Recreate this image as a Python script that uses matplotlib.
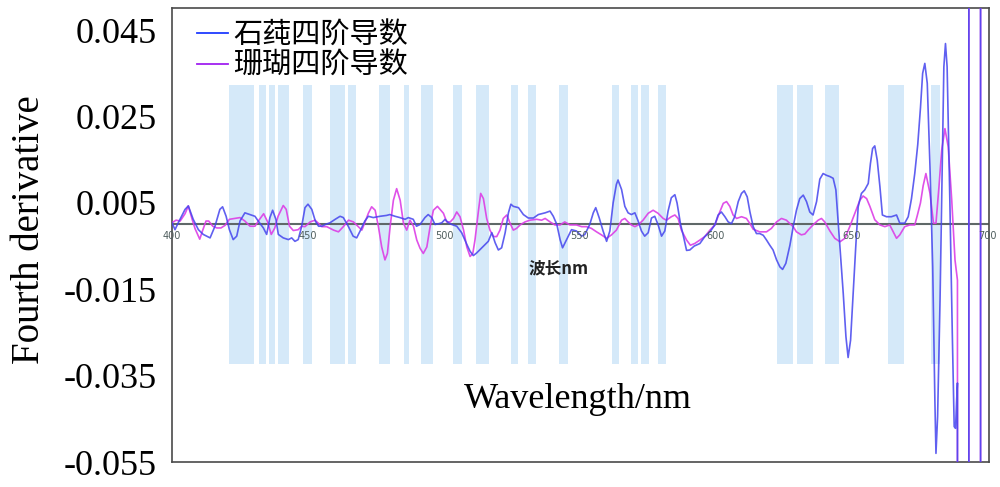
import numpy as np
import matplotlib
matplotlib.use('Agg')
import matplotlib.pyplot as plt
from matplotlib.lines import Line2D

plt.rcParams['axes.unicode_minus'] = False

# fourth derivative curves, values in units of 1e-3
# +-3000 are the off-scale jumps at the red edge
ulva_wl = [400.0, 401.1, 402.3, 404.8, 406.0, 407.8, 409.7, 411.5, 414.0, 415.8, 417.6, 418.6, 419.9,
           421.1, 422.5, 423.8, 425.0, 426.8, 428.7, 430.5, 431.7, 433.6, 434.8, 436.0, 437.0, 438.2,
           439.1, 440.9, 442.8, 444.0, 445.2, 446.4, 447.7, 448.9, 450.0, 451.4, 452.7, 453.9, 455.1,
           456.4, 458.1, 460.0, 461.8, 463.0, 464.8, 466.6, 467.9, 469.1, 470.9, 472.2, 474.0, 476.5,
           478.9, 480.1, 482.0, 483.8, 485.7, 486.9, 488.7, 489.9, 491.2, 493.0, 494.2, 495.5, 496.7,
           498.2, 499.2, 500.4, 501.6, 502.9, 504.7, 506.5, 508.4, 509.6, 510.8, 512.0, 513.9, 516.3,
           517.6, 518.8, 520.0, 521.2, 522.5, 523.7, 524.6, 525.5, 527.4, 529.2, 531.0, 532.9, 534.7,
           537.2, 539.0, 540.2, 541.5, 542.7, 543.6, 545.1, 546.9, 548.7, 550.6, 551.8, 553.6, 554.9,
           555.8, 557.1, 558.5, 559.8, 561.0, 562.2, 563.4, 564.0, 565.3, 566.5, 567.7, 568.9, 570.2,
           571.4, 572.6, 573.8, 575.1, 576.3, 577.5, 578.7, 580.0, 581.2, 582.4, 583.6, 584.9, 585.7,
           587.0, 587.9, 589.2, 590.4, 592.0, 594.1, 595.9, 597.8, 599.6, 600.8, 602.0, 603.3, 604.5,
           605.7, 606.9, 608.2, 609.4, 610.4, 611.5, 612.5, 613.7, 614.9, 616.1, 617.4, 618.6, 619.8,
           621.0, 622.3, 623.5, 624.5, 625.7, 627.2, 628.4, 629.6, 630.8, 632.1, 633.3, 634.5, 635.7,
           637.0, 638.2, 639.4, 640.6, 641.9, 643.1, 644.1, 644.9, 645.8, 646.8, 647.8, 648.6, 649.5,
           650.4, 651.4, 652.3, 653.5, 654.7, 656.0, 656.8, 657.6, 658.4, 659.3, 660.3, 661.2, 662.7,
           664.5, 666.4, 667.6, 669.4, 670.7, 671.9, 673.1, 674.2, 675.2, 676.0, 676.8, 677.7, 678.7,
           679.7, 680.5, 680.9, 681.5, 682.4, 683.2, 683.8, 684.4, 685.0, 686.0, 686.9, 687.6, 688.1,
           688.5, 688.8, 689.0, 692.9, 693.1, 697.2, 697.4, 700.4]
ulva_d4 = [0.4, -1.2, 0.4, 3.5, 4.3, 1.2, -1.2, -2.3, -3.1, -0.4, 3.5, 4.1, 1.9,
           -1.2, -3.5, -2.7, 0.8, 2.7, 2.3, 1.9, 0.8, -0.8, -2.3, 1.6, 3.3, 1.2,
           -2.3, -3.1, -3.5, -3.1, -3.9, -3.5, -0.4, 3.9, 4.7, 3.5, 0.8, -0.4, -0.4,
           0.0, 0.4, 1.2, 1.9, 1.6, -0.4, -2.7, -3.1, -1.6, 0.8, 1.9, 1.6, 1.9,
           2.1, 2.3, 1.9, 1.6, 1.2, 1.6, 1.2, -0.4, 0.0, 1.6, 2.3, 1.6, 0.0,
           0.2, 0.4, 1.2, 0.4, 0.0, -0.4, -1.9, -4.6, -6.2, -7.2, -6.6, -5.4, -3.9,
           -1.9, -4.2, -5.9, -5.4, -1.9, 2.7, 4.7, 4.2, 3.9, 2.3, 1.5, 1.5, 2.3,
           2.7, 3.1, 1.9, 0.0, -3.5, -5.4, -3.5, -1.2, -1.5, -2.7, -2.3, 0.0, 2.7,
           3.9, 1.5, -1.5, -3.9, -1.5, 5.0, 9.3, 10.3, 8.1, 4.2, 2.7, 2.3, 2.7,
           0.8, -1.5, -2.7, -1.9, 1.5, 1.9, 0.0, -2.7, -1.5, 3.1, 6.2, 6.9, 5.0,
           0.0, -2.3, -6.0, -5.9, -5.0, -4.4, -2.8, -1.7, -0.1, 2.2, 2.9, 1.8, 0.6,
           0.2, 1.8, 5.3, 7.2, 7.8, 6.4, 2.9, -0.5, -2.1, -2.1, -2.5, -3.6, -4.8,
           -5.9, -8.2, -9.8, -10.4, -9.0, -4.8, -0.5, 3.3, 6.0, 6.8, 5.3, 2.9, 2.2,
           5.3, 10.5, 11.8, 11.4, 11.1, 10.7, 8.0, 1.0, -6.7, -15.9, -26.0, -30.8, -26.8,
           -16.7, -5.2, 4.1, 7.2, 8.0, 9.5, 14.1, 17.6, 18.2, 14.9, 8.7, 2.2, 1.8,
           1.8, 2.2, 0.3, 0.3, 1.8, 6.0, 11.8, 18.5, 27.0, 35.0, 37.3, 32.7, 13.4,
           -9.8, -40.7, -53.0, -44.5, -17.5, 13.4, 36.5, 41.9, 36.5, 5.6, -25.1, -46.8, -47.2,
           -40.7, -36.7, -3000, -3000, 3000, 3000, -3000, -3000]

coral_wl = [400.0, 401.5, 403.0, 404.8, 406.0, 407.5, 408.5, 410.2, 411.2, 412.5, 413.5, 415.0, 416.5,
            418.0, 419.5, 421.1, 423.0, 425.0, 426.8, 428.7, 430.5, 432.2, 433.7, 435.0, 436.5, 437.8,
            439.0, 440.9, 442.0, 443.2, 444.6, 446.4, 447.7, 448.9, 450.8, 452.6, 453.8, 455.1, 456.9,
            459.4, 461.2, 463.0, 464.9, 466.7, 468.5, 469.8, 471.0, 472.2, 473.4, 474.7, 475.9, 477.1,
            478.3, 479.2, 480.2, 481.4, 482.6, 483.9, 485.1, 486.3, 487.5, 488.8, 490.0, 491.2, 492.4,
            493.7, 494.9, 496.1, 497.6, 499.8, 501.0, 502.3, 503.5, 504.7, 505.9, 507.2, 508.4, 509.6,
            510.6, 511.4, 512.7, 513.5, 514.5, 515.7, 516.9, 518.2, 519.4, 520.6, 521.8, 523.1, 524.3,
            525.5, 526.7, 528.0, 529.8, 531.6, 534.1, 535.9, 537.2, 539.0, 540.8, 542.7, 544.4, 546.3,
            548.7, 550.6, 552.4, 554.2, 556.1, 557.9, 559.8, 561.6, 563.4, 565.3, 566.5, 567.7, 568.9,
            570.2, 571.4, 573.2, 575.1, 576.9, 578.7, 580.6, 581.8, 583.6, 584.9, 586.1, 587.3, 589.2,
            590.6, 592.2, 594.1, 595.9, 597.8, 599.6, 601.4, 602.7, 603.9, 605.1, 606.3, 607.6, 609.4,
            611.2, 612.5, 613.7, 616.1, 618.6, 620.4, 622.3, 624.1, 625.9, 627.2, 628.4, 629.6, 631.4,
            632.7, 633.9, 635.7, 637.6, 638.8, 640.0, 641.9, 643.7, 645.6, 647.4, 649.2, 651.1, 652.9,
            654.1, 655.4, 656.6, 658.4, 660.3, 662.1, 663.9, 665.2, 666.4, 667.6, 669.4, 671.3, 673.1,
            674.0, 675.2, 676.2, 677.2, 678.7, 680.0, 680.9, 682.0, 683.0, 684.2, 685.4, 686.7, 687.9,
            688.8, 689.0, 692.9, 693.1, 697.2, 697.4, 700.4]
coral_d4 = [0.4, 1.0, 0.8, 2.5, 4.3, 1.0, -1.0, -3.4, -1.5, 0.8, 0.8, -0.4, -0.8,
            -0.8, -0.2, 1.2, 1.4, 1.6, 0.8, -0.4, -0.4, 1.2, 2.5, 0.8, -2.3, -0.8,
            1.9, 4.4, 3.5, -0.4, -1.4, -1.2, -0.4, -0.5, 0.6, 1.0, 0.3, -0.5, -0.5,
            -1.3, -1.7, -0.5, 1.0, 0.6, -0.5, -1.3, 0.6, 2.6, 4.1, 3.3, -0.5, -5.2,
            -8.2, -6.7, -0.5, 5.6, 8.3, 5.6, 0.3, -1.3, 1.0, -0.4, -3.6, -5.5, -6.7,
            -5.2, -0.5, 3.3, 4.2, 2.6, 0.6, 0.6, 1.4, 2.9, 1.8, -1.3, -5.2, -7.4,
            -6.7, -3.6, 3.3, 7.2, 6.0, 1.4, -1.3, -2.8, -2.8, -1.3, 1.4, 2.2, 0.3,
            -1.3, -0.9, -0.1, 0.6, 1.0, 1.2, 1.0, 1.4, 0.6, -0.1, -0.1, 0.6, -0.1,
            -0.1, -0.5, -0.5, -0.9, -1.7, -2.4, -3.2, -2.4, -1.3, 1.0, 1.4, 0.6, -0.1,
            -0.5, -0.1, 1.0, 2.6, 3.3, 2.6, 1.4, 1.0, 1.8, 2.2, 1.4, -1.3, -3.6,
            -4.8, -4.4, -3.6, -2.8, -1.3, -0.1, 2.9, 4.9, 5.3, 4.2, 2.2, 1.4, 1.8,
            1.4, 0.2, -1.1, -1.7, -1.7, -0.9, 0.6, 1.4, 1.0, 0.2, -0.5, -1.7, -2.4,
            -2.2, -1.3, -0.1, 1.0, 1.4, 0.6, -1.5, -3.2, -4.0, -3.2, -0.5, 2.6, 5.6,
            6.6, 6.0, 4.2, 1.1, -0.1, -0.5, -0.1, -1.7, -3.2, -2.4, -0.5, -0.1, -0.1,
            2.0, 5.0, 9.0, 11.8, 7.2, 0.3, 0.3, 8.7, 17.2, 22.2, 18.0, 5.6, -8.2,
            -12.9, -3000, -3000, 3000, 3000, -3000, -3000]

# highlighted wavelength bands (nm)
band_lo = [421.0, 432.0, 435.7, 439.0, 448.2, 458.1, 464.7, 476.1, 485.3, 491.5, 503.3, 511.8,
           524.6, 530.9, 542.3, 561.8, 568.8, 572.4, 578.7, 622.4, 629.8, 640.1, 663.2, 679.0]
band_hi = [430.1, 434.6, 437.9, 443.0, 451.5, 463.6, 467.6, 480.1, 487.1, 495.9, 506.6, 516.5,
           527.2, 533.8, 545.6, 564.3, 571.3, 575.4, 581.6, 628.3, 635.7, 645.2, 669.1, 682.4]
band_half = 0.0323

y_ticks = [0.045, 0.025, 0.005, -0.015, -0.035, -0.055]
y_labels = ['0.045', '0.025', '0.005', '-0.015', '-0.035', '-0.055']
inner_ticks = [400, 450, 500, 550, 600, 650, 700]
names = ['石莼四阶导数', '珊瑚四阶导数']

cjk = ['Noto Sans CJK SC', 'DejaVu Sans']
serif = 'Liberation Serif'

fig = plt.figure(figsize=(10, 4.87), dpi=100)
ax = fig.add_axes([0.172, 0.0513, 0.817, 0.932])

lo = np.array(band_lo)
hi = np.array(band_hi)
ax.bar(lo, 2 * band_half, width=hi - lo, bottom=-band_half, align='edge',
       color='#d5e9f9', linewidth=0, zorder=1)

ax.axhline(0, color='#5f6868', lw=1.5, zorder=2)

ax.plot(coral_wl, np.array(coral_d4) * 1e-3, color='#dc3ee6', lw=1.2, alpha=0.9, zorder=3)
ax.plot(ulva_wl, np.array(ulva_d4) * 1e-3, color='#4444ee', lw=1.2, alpha=0.85, zorder=4)

for t in inner_ticks:
    ax.text(t, -0.0027, str(t), ha='center', va='center', fontsize=7,
            color='#4f5e5e', zorder=5)
ax.text(542.3, -0.0102, '波长nm', ha='center', va='center', fontsize=12,
        fontweight='bold', color='#222222', family=cjk, zorder=5)

ax.set_xlim(400, 700.4)
ax.set_ylim(-0.055, 0.0501)
ax.set_xticks([])
ax.set_yticks(y_ticks)
ax.set_yticklabels(y_labels, fontsize=26, family=serif)
ax.tick_params(axis='y', length=0, pad=11)
for s in ax.spines.values():
    s.set_color('#4a4a4a')
    s.set_linewidth(1.2)

ax.text(0.497, 0.137, 'Wavelength/nm', transform=ax.transAxes, ha='center', va='center',
        fontsize=26, family=serif)
fig.text(0.030, 0.528, 'Fourth derivative', rotation=90, ha='center', va='center',
         fontsize=28, family=serif)

handles = [Line2D([], [], color='#1f3cff', lw=1.3), Line2D([], [], color='#a020f0', lw=1.3)]
ax.legend(handles, names, loc='upper left', bbox_to_anchor=(0.0306, 0.974), frameon=False,
          borderpad=0, borderaxespad=0, handlelength=1.07, handletextpad=0.17,
          labelspacing=0.03, prop={'family': cjk, 'size': 21})

fig.savefig('out.png', dpi=100)
